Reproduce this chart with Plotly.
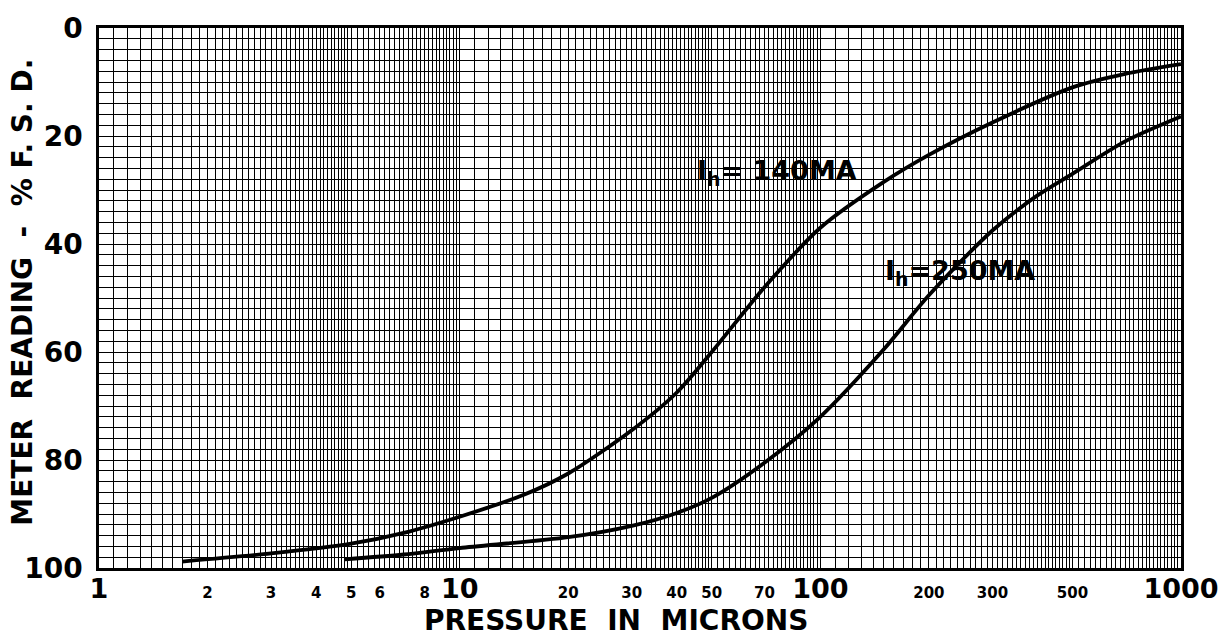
import numpy as np
import plotly.graph_objects as go

# Meter reading (% of full-scale deflection) against pressure, for two heater currents
p_140 = [1.7, 3, 5, 7, 10, 15, 20, 30, 40, 50, 70, 100, 150, 200, 300, 500, 700, 1000]
r_140 = [98.8, 97.3, 95.5, 93.5, 90.5, 86.5, 82.5, 74.5, 67.5, 60, 48, 37, 28.5, 23.5, 17.5, 11, 8.5, 6.7]

p_250 = [4.8, 7, 10, 20, 30, 40, 50, 70, 100, 150, 200, 300, 400, 500, 700, 1000]
r_250 = [98.4, 97.5, 96.3, 94.3, 92.2, 89.8, 87, 80.5, 72, 59.5, 49.5, 37.5, 31, 27, 21, 16.4]

# Axis tick labels
x_ticks = [1, 2, 3, 4, 5, 6, 8, 10, 20, 30, 40, 50, 70, 100, 200, 300, 500, 1000]
x_major = [1, 10, 100, 1000]
y_ticks = [0, 20, 40, 60, 80, 100]

FONT = "DejaVu Sans"

# Log-paper ruling: 0.1 steps from 1 to 5, 0.2 steps from 5 to 10, per decade
grid_x = []
for dec in (1, 10, 100):
    grid_x += [round(dec * v, 6) for v in np.arange(1.0, 5.0, 0.1)]
    grid_x += [round(dec * v, 6) for v in np.arange(5.0, 10.0, 0.2)]
grid_x.append(1000)
grid_y = list(range(0, 101, 2))


def tick_text(v):
    if v in x_major:
        return f"<span style='font-size:27px'>{v}</span>"
    return str(v)


fig = go.Figure()
for p, r in ((p_140, r_140), (p_250, r_250)):
    fig.add_trace(go.Scatter(
        x=p, y=r, mode="lines",
        line=dict(color="black", width=3.8, shape="spline", smoothing=0.8),
        showlegend=False, hoverinfo="skip",
    ))

fig.update_layout(
    width=1231, height=636,
    margin=dict(l=99, r=42, t=20, b=68),
    paper_bgcolor="white", plot_bgcolor="white",
    font=dict(family=FONT, color="black"),
    xaxis=dict(
        type="log", range=[0, 3],
        tickmode="array", tickvals=x_ticks, ticktext=[tick_text(v) for v in x_ticks],
        tickfont=dict(size=15, family=FONT, weight="bold", color="black"),
        ticks="", ticklabelstandoff=9,
        showgrid=True, gridcolor="black", gridwidth=1.3,
        minor=dict(tickmode="array", tickvals=grid_x, showgrid=True,
                   gridcolor="black", gridwidth=1.1, ticks=""),
        showline=True, linecolor="black", linewidth=2.5, mirror=True,
        zeroline=False,
    ),
    yaxis=dict(
        range=[100, 0],
        tickmode="array", tickvals=y_ticks, ticktext=[str(v) for v in y_ticks],
        tickfont=dict(size=28, family=FONT, weight="bold", color="black"),
        ticks="", ticklabelstandoff=8,
        showgrid=True, gridcolor="black", gridwidth=1.3,
        minor=dict(tickmode="array", tickvals=grid_y, showgrid=True,
                   gridcolor="black", gridwidth=1.1, ticks=""),
        showline=True, linecolor="black", linewidth=2.5, mirror=True,
        zeroline=False,
    ),
)

fig.add_annotation(
    text="PRESSURE  IN  MICRONS", xref="paper", yref="paper",
    x=(620 - 99) / 1090, y=-(621 - 568) / 548, xanchor="center", yanchor="middle",
    showarrow=False, font=dict(size=28, family=FONT, weight="bold", color="black"),
)
fig.add_annotation(
    text="METER  READING  -  % F. S. D.", xref="paper", yref="paper",
    x=-(99 - 22) / 1090, y=1 - (288 - 20) / 548, xanchor="center", yanchor="middle",
    textangle=-90, showarrow=False,
    font=dict(size=28, family=FONT, weight="bold", color="black"),
)

# Curve labels
fig.add_annotation(
    text="I<sub>h</sub>= 140MA", xref="paper", yref="paper",
    x=(782 - 99) / 1090, y=1 - (167 - 20) / 548, xanchor="center", yanchor="middle",
    showarrow=False, font=dict(size=27, family=FONT, weight="bold", color="black"),
)
fig.add_annotation(
    text="I<sub>h</sub>=250MA", xref="paper", yref="paper",
    x=(966 - 99) / 1090, y=1 - (268 - 20) / 548, xanchor="center", yanchor="middle",
    showarrow=False, font=dict(size=27, family=FONT, weight="bold", color="black"),
)

fig.write_html("out.html")
